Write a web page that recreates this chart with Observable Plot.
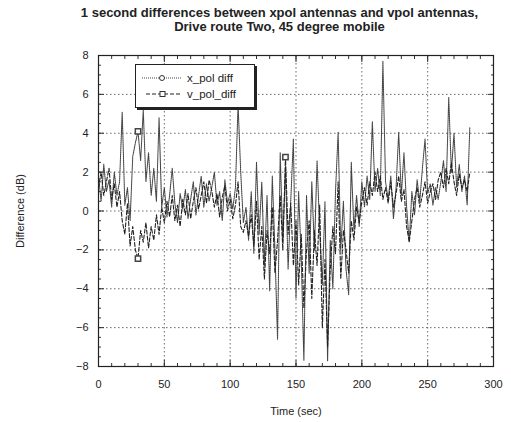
<!DOCTYPE html>
<html><head><meta charset="utf-8">
<script src="https://cdn.jsdelivr.net/npm/d3@7"></script>
<script src="https://cdn.jsdelivr.net/npm/@observablehq/plot@0.6"></script>
<style>
body{margin:0;background:#fff;font-family:"Liberation Sans",Arial,sans-serif;}
#wrap{position:relative;width:511px;height:422px;}
#title{height:40px;text-align:center;font-weight:bold;font-size:13px;line-height:14px;padding-top:6px;padding-left:48px;box-sizing:border-box;color:#222;}
#legend{position:absolute;left:135px;top:64px;width:118px;height:42px;border:1px solid #222;box-shadow:2px 2px 0 #222;background:#fff;font-size:11.5px;color:#222;}
#legend .row{position:absolute;left:4px;height:14px;display:flex;align-items:center;}
#legend svg{margin-right:3px;}
</style></head>
<body><div id="wrap">
<div id="title">1 second differences between xpol antennas and vpol antennas,<br>Drive route Two, 45 degree mobile</div>
<div id="chart"></div>
<div id="legend">
 <div class="row" style="top:6px"><svg width="44" height="10"><line x1="2" y1="5" x2="42" y2="5" stroke="#444" stroke-dasharray="1,1"/><circle cx="22" cy="5" r="2.5" fill="#fff" stroke="#333"/></svg>x_pol diff</div>
 <div class="row" style="top:22px"><svg width="44" height="10"><line x1="6" y1="5" x2="42" y2="5" stroke="#222" stroke-dasharray="4,2"/><rect x="20" y="2.5" width="5" height="5" fill="#fff" stroke="#333"/></svg>v_pol_diff</div>
</div>
</div>
<script>
const times = d3.range(0, 283, 2);
const xPolDiff = [1.8,0.5,2.4,1.0,1.6,0.2,2.0,0.8,1.5,5.1,0.3,1.2,-0.5,2.8,3.5,4.1,2.6,5.2,1.5,3.0,0.8,2.2,0.5,4.8,0.2,1.2,-0.3,0.8,2.2,0.4,-0.6,0.9,0.1,1.1,-0.4,0.6,1.5,-0.2,0.8,1.8,0.2,1.4,0.5,1.2,2.0,0.3,1.0,-0.5,1.6,0.4,0.9,0.1,1.2,5.5,2.0,-0.6,0.2,-1.5,1.0,-2.2,2.5,-1.2,1.5,-2.8,0.8,-4.1,1.8,-2.0,-6.6,3.0,-1.5,2.2,-3.0,0.5,3.7,-4.5,1.0,-2.5,-7.7,0.8,-3.2,1.5,-2.0,2.6,-1.0,-3.8,0.5,-7.7,-1.5,-4.0,1.0,4.05,-2.0,0.5,-3.0,-4.3,2.5,-1.0,0.8,-0.8,1.5,0.2,1.8,0.6,4.6,1.0,2.2,0.8,7.7,1.5,0.6,1.8,-0.4,1.2,4.05,0.8,3.0,0.2,-1.6,1.0,-0.2,1.6,0.5,2.2,3.7,0.9,1.4,0.3,1.2,0.6,1.5,2.6,1.0,5.85,2.0,4.0,1.2,2.4,1.0,1.8,0.3,4.3];
const vPolDiff = [1.2,2.0,0.8,1.5,2.2,0.6,1.4,0.2,1.0,-0.5,-1.2,0.4,-1.8,-0.8,-2.0,-2.45,-1.0,-1.6,-0.6,-1.9,-0.8,-1.5,-0.2,-1.2,0.2,-0.6,0.5,-0.3,0.8,-0.5,0.3,-0.8,0.6,-0.2,0.9,-0.4,0.5,1.2,0.1,0.8,1.5,0.4,1.6,1.05,0.2,0.9,-0.3,0.7,1.3,0.0,0.6,-0.4,0.3,1.5,-0.8,-1.1,-0.5,-1.3,-0.2,-1.8,0.5,-2.5,-0.8,-3.5,-1.0,-2.2,0.2,-3.2,-1.5,0.8,-2.0,2.77,-1.2,0.4,-2.8,-0.5,-3.8,-1.2,-5.0,-2.0,-0.5,-4.5,-1.0,-2.8,0.3,-6.0,-2.5,-7.0,-3.0,-0.8,-2.2,1.5,-3.5,-1.0,-2.0,-3.2,-0.5,-1.5,0.2,-0.6,0.5,1.2,0.3,1.5,0.8,2.0,1.0,1.8,0.6,1.2,0.4,1.5,0.2,0.9,1.8,0.5,1.1,-0.8,-1.6,-0.5,0.6,1.2,0.2,0.8,1.5,0.4,1.0,1.4,0.6,1.6,2.0,1.2,2.2,1.4,2.5,1.5,0.8,1.9,1.2,1.6,1.0,2.0];
const xMarkerTimes = [30];
const vMarkerTimes = [30, 142];
const xTicks = [0, 50, 100, 150, 200, 250, 300];
const yTicks = [-8, -6, -4, -2, 0, 2, 4, 6, 8];
const xMinor = d3.range(0, 301, 10);
const yMinor = d3.range(-8, 8.01, 0.5);

const xPol = times.map((t, i) => ({t, v: xPolDiff[i]}));
const vPol = times.map((t, i) => ({t, v: vPolDiff[i]}));
const xMarks = xPol.filter(d => xMarkerTimes.includes(d.t));
const vMarks = vPol.filter(d => vMarkerTimes.includes(d.t));

const chart = Plot.plot({
  width: 511, height: 382,
  marginLeft: 98, marginRight: 18, marginTop: 15, marginBottom: 56,
  style: {fontFamily: "Liberation Sans, Arial, sans-serif", fontSize: "11px", color: "#222", background: "#fff"},
  x: {domain: [0, 300]},
  y: {domain: [-8, 8]},
  marks: [
    Plot.gridX(xTicks.slice(1, -1), {stroke: "#444", strokeOpacity: 0.8, strokeDasharray: "1.5,2.5"}),
    Plot.gridY(yTicks.slice(1, -1), {stroke: "#444", strokeOpacity: 0.8, strokeDasharray: "1.5,2.5"}),
    Plot.axisX(xMinor, {anchor: "bottom", tickSize: -3, text: null, label: null, stroke: "#333"}),
    Plot.axisX(xMinor, {anchor: "top", tickSize: -3, text: null, label: null, stroke: "#333"}),
    Plot.axisY(yMinor, {anchor: "left", tickSize: -3, text: null, label: null, stroke: "#333"}),
    Plot.axisY(yMinor, {anchor: "right", tickSize: -3, text: null, label: null, stroke: "#333"}),
    Plot.axisX(xTicks, {anchor: "bottom", tickSize: -6, tickPadding: 20, label: "Time (sec)", labelAnchor: "center", labelArrow: "none", labelOffset: 48, stroke: "#333", fontSize: 11}),
    Plot.axisY(yTicks, {anchor: "left", tickSize: -6, tickPadding: 16, label: "Difference (dB)", labelAnchor: "center", labelArrow: "none", labelOffset: 82, stroke: "#333", fontSize: 11}),
    Plot.axisY(yTicks, {anchor: "right", tickSize: -6, text: null, label: null, stroke: "#333"}),
    Plot.axisX(xTicks, {anchor: "top", tickSize: -6, text: null, label: null, stroke: "#333"}),
    Plot.line(xPol, {x: "t", y: "v", stroke: "#444", strokeWidth: 1.1, strokeDasharray: "1,1"}),
    Plot.line(vPol, {x: "t", y: "v", stroke: "#222", strokeWidth: 1.1, strokeDasharray: "4,2"}),
    Plot.dot(xMarks, {x: "t", y: "v", symbol: "square", r: 3, fill: "#fff", stroke: "#444"}),
    Plot.dot(vMarks, {x: "t", y: "v", symbol: "square", r: 3, fill: "#fff", stroke: "#444"}),
    Plot.frame({stroke: "#222", strokeWidth: 1.2})
  ]
});
document.getElementById("chart").appendChild(chart);
</script>
</body></html>
